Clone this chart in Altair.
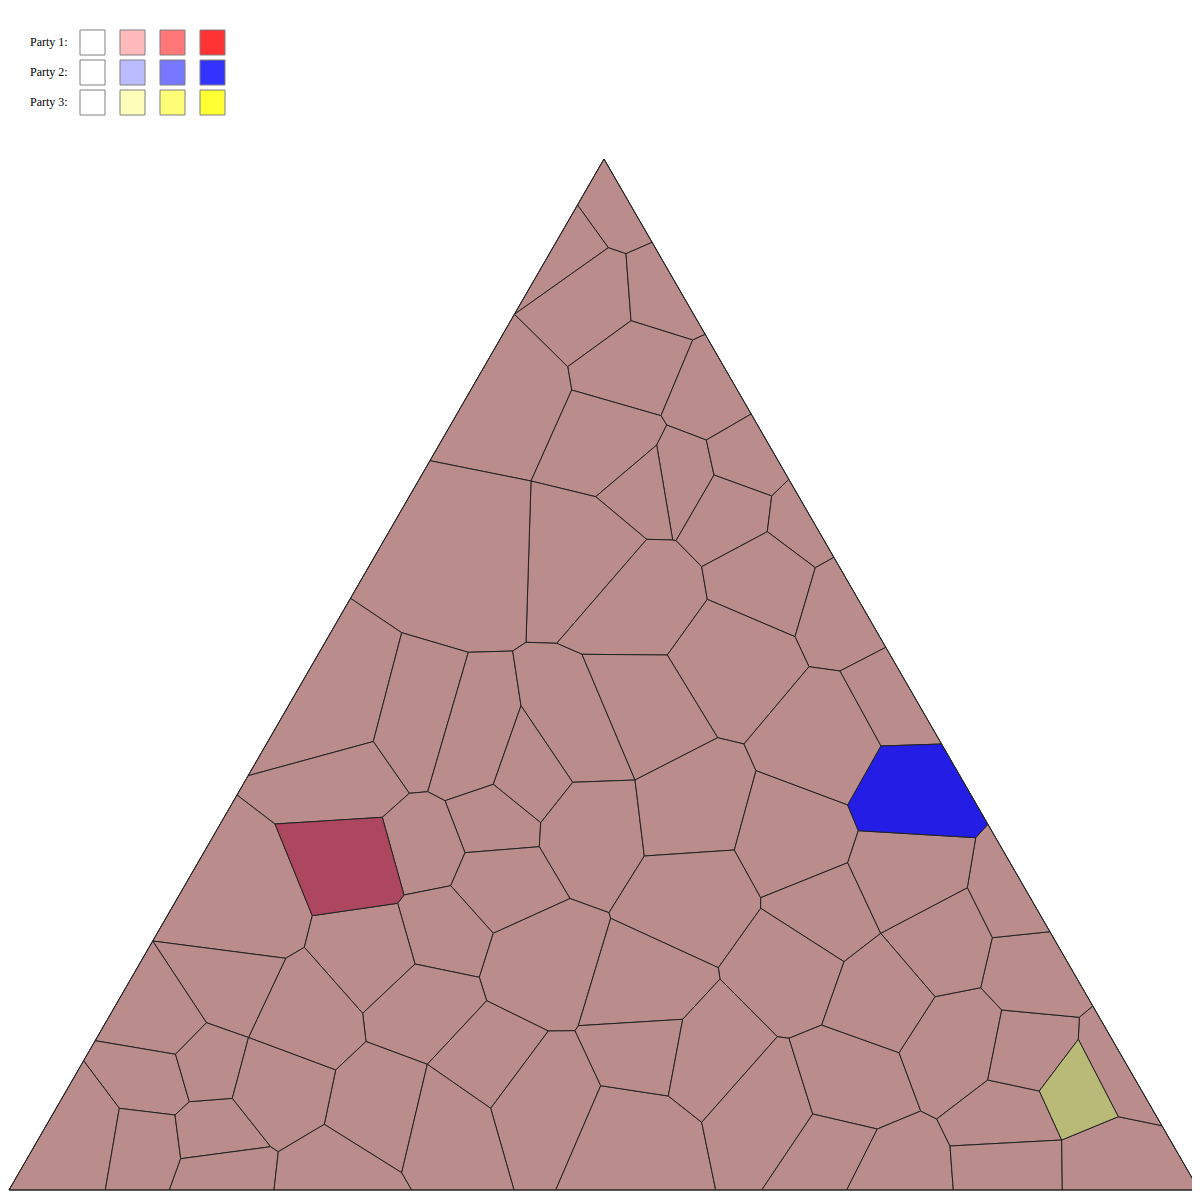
import math
import altair as alt
import pandas as pd

# ---- Voronoi vertices (page pixel units) ----
vertices = {
    "A": (604, 159), "L": (9, 1190), "R": (1199, 1190),
    "P1": (577.5, 205), "P2": (652.1, 242.3), "P3": (514.4, 314.3), "P4": (705.2, 334.3),
    "P5": (751.2, 414), "P6": (430, 460.7), "P7": (350.5, 598.3), "P8": (248.1, 775.7),
    "P9": (788.8, 479.3), "P10": (833.9, 557.3), "P11": (885.8, 647.3), "P12": (237, 795),
    "P13": (152.7, 941), "P14": (95.2, 1040.7), "P15": (274, 1190), "P16": (169.3, 1190),
    "P17": (83.6, 1060.7), "P18": (105.3, 1190), "P19": (411.7, 1190), "P20": (514, 1190),
    "P21": (555.7, 1190), "P22": (715.7, 1190), "P23": (761.7, 1190), "P24": (846.7, 1190),
    "P25": (953.3, 1190), "P26": (1062.3, 1190), "P27": (1161.9, 1125.7), "P28": (1092.8, 1006),
    "P29": (1049.9, 931.7), "B2": (941.6, 744), "B5": (987.9, 824.3),
    "V1": (608.3, 247.7), "V2": (626, 253.7), "V3": (631, 320.7), "V4": (692.7, 340),
    "V5": (567.7, 366.7), "V6": (571.7, 390), "V7": (661, 415.7), "V8": (666.7, 425),
    "V9": (706.3, 440), "V10": (656.7, 445), "V11": (531, 481), "V12": (595.7, 496.7),
    "V13": (526, 642.3), "V14": (556.7, 643.3), "V15": (512.7, 651), "V16": (582, 654.3),
    "V17": (521, 705.7), "V18": (468.3, 652.3), "V19": (401.7, 632.7), "V20": (373.3, 741.5),
    "V21": (672.7, 540), "V22": (646.7, 539.3), "V23": (676, 540.7), "V24": (714, 475),
    "V25": (771.7, 496), "V26": (701.7, 566.7), "V27": (767.3, 531.7), "V28": (815.3, 567.7),
    "V29": (707.3, 599.3), "V30": (667.3, 655), "V31": (795, 636.7), "V32": (809, 666.7),
    "V33": (840, 671), "V34": (717.7, 737.7), "V35": (744, 744), "V36": (572.7, 782.3),
    "V37": (635, 780), "V38": (493.3, 784.3), "V39": (445, 800.7), "V40": (540.7, 822.7),
    "V41": (539.3, 846.7), "V42": (465, 852.7), "V43": (450.7, 885.7), "V44": (570, 898.5),
    "V45": (609, 912.7), "V46": (644.3, 856), "V47": (734.3, 850), "V48": (756, 770.7),
    "V49": (760.7, 897.7), "V50": (760.7, 908.3), "V51": (718.3, 967.7), "V52": (720, 979),
    "V53": (682.7, 1019.3), "V54": (777.3, 1036.7), "V55": (789, 1038.3), "V56": (578.3, 1025.7),
    "V57": (610.7, 918.3), "V58": (575, 1030.7), "V59": (548.3, 1031), "V60": (486.7, 1000.7),
    "V61": (479.3, 977.3), "V62": (493.3, 933.3), "V64": (409.3, 793.3), "V65": (427.7, 791.7),
    "V67": (304.3, 947.3), "V68": (285.7, 958.3), "V69": (362.7, 1013.3), "V70": (415, 964),
    "V71": (366, 1041.5), "V72": (248.5, 1037.5), "V73": (206.5, 1022.7), "V74": (175.5, 1054.3),
    "V75": (232.3, 1098.3), "V76": (335.7, 1070), "V77": (324.3, 1124.3), "V78": (278.3, 1151.7),
    "V79": (270.7, 1146.7), "V80": (180.7, 1158.7), "V81": (175, 1115), "V82": (189.3, 1101.7),
    "V83": (119.3, 1108.3), "V84": (427.3, 1064.3), "V85": (401.7, 1172.7), "V86": (490.7, 1108.3),
    "V87": (600.7, 1085.7), "V88": (668.3, 1096), "V89": (701.7, 1122.3), "V90": (821.7, 1025),
    "V91": (899, 1052.7), "V92": (920.7, 1111), "V93": (936.7, 1119), "V94": (877.3, 1129),
    "V95": (812.7, 1114), "V96": (950, 1146), "V97": (1061.7, 1140), "V98": (1079.3, 1017.3),
    "V99": (1001.7, 1010), "V100": (987.7, 1080), "V101": (847.7, 862.7), "V102": (880.7, 933.3),
    "V103": (844, 961.7), "V104": (967.3, 887.7), "V105": (992.3, 937.7), "V106": (980.7, 987.7),
    "V107": (935, 996.7),
    "R1": (382.3, 817.3), "R2": (275, 824), "R3": (312.3, 915.7), "R4": (397.7, 903.3), "R5": (404, 895),
    "B1": (881, 746), "B3": (847.7, 805), "B4": (858.3, 830.7), "B6": (975.7, 837.7),
    "O1": (1078.3, 1039.3), "O2": (1039.3, 1091), "O4": (1118.3, 1116.7),
}

# ---- cells (vertex names) and their colour class ----
cells = [
    "A P1 V1 V2 P2", "P1 V1 P3", "V1 V2 V3 V5 P3", "P2 V2 V3 V4 P4", "V3 V4 V7 V6 V5",
    "P4 V4 V7 V8 V9 P5", "P3 V5 V6 V11 P6", "V6 V7 V8 V10 V12 V11", "V8 V9 V24 V23 V21 V10",
    "V9 P5 P9 V25 V24", "V24 V25 V27 V26 V23", "P9 P10 V28 V27 V25", "V12 V10 V21 V22",
    "V11 V12 V22 V14 V13", "V22 V21 V23 V26 V29 V30 V16 V14", "V26 V27 V28 V31 V29",
    "P10 P11 V33 V32 V31 V28", "V29 V31 V32 V35 V34 V30", "P6 V11 V13 V15 V18 V19 P7",
    "P7 V19 V20 P8", "V19 V18 V65 V64 V20", "V18 V15 V17 V38 V39 V65",
    "V15 V13 V14 V16 V37 V36 V17", "V30 V34 V37 V16", "V17 V36 V40 V38", "V39 V38 V40 V41 V42",
    "V36 V37 V46 V45 V44 V41 V40", "V34 V35 V48 V47 V46 V37", "V35 V32 V33 B1 B3 V48",
    "P11 B2 B1 V33", "P8 V20 V64 R1 R2 P12", "V64 V65 V39 V42 V43 R5 R1",
    "P12 R2 R3 V67 V68 P13", "V42 V41 V44 V62 V43", "V43 R5 R4 V70 V61 V62",
    "R3 R4 V70 V69 V67", "V44 V45 V57 V56 V58 V59 V60 V61 V62", "V46 V47 V49 V50 V51 V57 V45",
    "V48 B3 B4 V101 V49 V47", "V49 V101 V102 V103 V50", "V50 V103 V90 V55 V54 V52 V51",
    "V51 V52 V53 V56 V57", "V70 V61 V60 V84 V71 V69", "V68 V67 V69 V71 V76 V72",
    "V71 V84 V85 V77 V76", "V84 V60 V59 V86", "V86 V59 V58 V87 P21 P20", "V87 V88 V89 P22 P21",
    "V53 V88 V87 V58 V56", "V52 V54 V89 V88 V53", "V54 V55 V95 P23 P22 V89",
    "V55 V90 V91 V92 V94 V95", "V95 V94 P24 P23", "V94 V92 V93 V96 P25 P24",
    "V91 V107 V106 V99 V100 V93 V92", "V93 V100 O2 V97 V96", "V96 V97 P26 P25",
    "V97 O4 P27 R P26", "O1 O4 P27 P28 V98", "V99 V98 O1 O2 V100", "V106 V105 P29 P28 V98 V99",
    "V104 B6 B5 P29 V105", "V102 V104 V105 V106 V107", "V101 B4 B6 V104 V102",
    "V90 V103 V102 V107 V91", "P13 V68 V72 V73", "P13 V73 V74 P14", "P14 V74 V82 V81 V83 P17",
    "P17 V83 P18 L", "V83 V81 V80 P16 P18", "V81 V82 V75 V79 V80", "V80 V79 V78 P15 P16",
    "V74 V73 V72 V75 V82", "V72 V76 V77 V78 V79 V75", "V78 V77 V85 P19 P15",
    "V85 V84 V86 P20 P19",
]
special_cells = {
    "R2 R1 R5 R4 R3": "#AD4760",
    "B1 B2 B5 B6 B4 B3": "#231DE6",
    "O1 O2 V97 O4": "#BABA78",
}
base_color = "#BA8C8B"

# legend
parties = ["Party 1:", "Party 2:", "Party 3:"]
legend_colors = [
    ["#FFFFFF", "#FFBBBB", "#FF7777", "#FF3333"],
    ["#FFFFFF", "#BBBBFF", "#7777FF", "#3333FF"],
    ["#FFFFFF", "#FFFFBB", "#FFFF77", "#FFFF33"],
]


def ring(names):
    pts = [vertices[n] for n in names]
    cx = sum(p[0] for p in pts) / len(pts)
    cy = sum(p[1] for p in pts) / len(pts)
    pts = sorted(pts, key=lambda p: math.atan2(p[1] - cy, p[0] - cx))
    pts = [list(p) for p in pts]
    return pts + [pts[0]]


features = []
for c in cells:
    features.append({"type": "Feature", "properties": {"fill": base_color},
                     "geometry": {"type": "Polygon", "coordinates": [ring(c.split())]}})
for c, col in special_cells.items():
    features.append({"type": "Feature", "properties": {"fill": col},
                     "geometry": {"type": "Polygon", "coordinates": [ring(c.split())]}})

cells_layer = alt.Chart(alt.Data(values=features)).mark_geoshape(
    stroke="#222222", strokeWidth=1
).encode(
    fill=alt.Color("properties.fill:N", scale=None)
).project(type="identity", scale=1, translate=[-8, -8])

tri = {"type": "Feature", "properties": {},
       "geometry": {"type": "Polygon",
                    "coordinates": [[list(vertices["A"]), list(vertices["R"]),
                                     list(vertices["L"]), list(vertices["A"])]]}}
outline = alt.Chart(alt.Data(values=[tri])).mark_geoshape(
    filled=False, stroke="#222222", strokeWidth=1
).project(type="identity", scale=1, translate=[-8, -8])

# legend layout (view pixels)
rows = []
for i, p in enumerate(parties):
    for j, col in enumerate(legend_colors[i]):
        rows.append({"x": 72 + 40 * j, "x2": 97 + 40 * j,
                     "y": 22 + 30 * i, "y2": 47 + 30 * i, "c": col})
leg_df = pd.DataFrame(rows)
txt_df = pd.DataFrame({"label": parties, "x": [22, 22, 22], "y": [38, 68, 98]})

leg_rects = alt.Chart(leg_df).mark_rect(stroke="#808080", strokeWidth=1).encode(
    x=alt.X("x:Q", scale=None, axis=None), x2="x2:Q",
    y=alt.Y("y:Q", scale=None, axis=None), y2="y2:Q",
    fill=alt.Color("c:N", scale=None),
)
leg_text = alt.Chart(txt_df).mark_text(
    align="left", baseline="alphabetic", font="Liberation Serif", fontSize=12, color="black"
).encode(
    x=alt.X("x:Q", scale=None, axis=None),
    y=alt.Y("y:Q", scale=None, axis=None),
    text="label:N",
)

chart = alt.layer(cells_layer, outline, leg_rects, leg_text).properties(
    width=1184, height=1184, padding=0,
    autosize=alt.AutoSizeParams(type="none"),
    background="white",
).configure_view(stroke=None)

chart.save("out.html", embed_options={"renderer": "svg", "actions": False})
